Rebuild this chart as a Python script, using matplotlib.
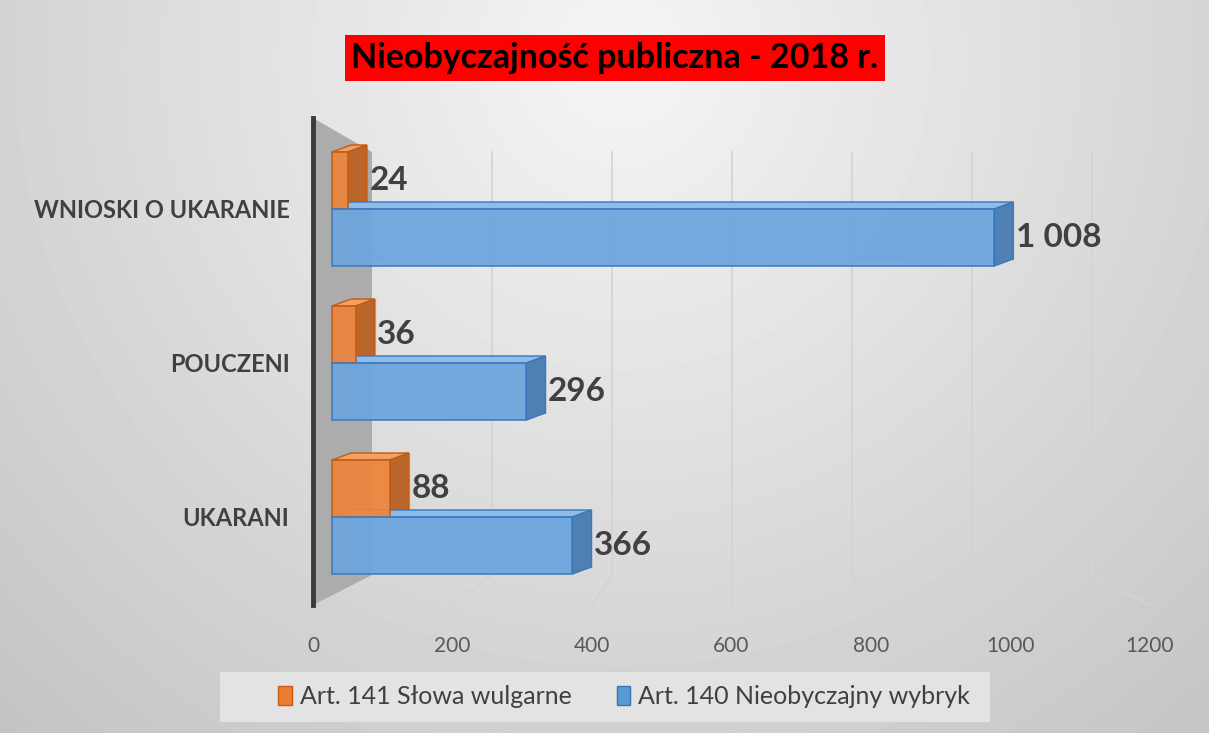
import numpy as np
import matplotlib.pyplot as plt
from matplotlib.patches import Polygon, Rectangle, Patch

categories = ["UKARANI", "POUCZENI", "WNIOSKI O UKARANIE"]
art141 = [88, 36, 24]
art140 = [366, 296, 1008]
labels141 = ["88", "36", "24"]
labels140 = ["366", "296", "1 008"]
series = ["Art. 141 Słowa wulgarne", "Art. 140 Nieobyczajny wybryk"]
ticks = [0, 200, 400, 600, 800, 1000, 1200]
title = "Nieobyczajność publiczna - 2018 r."

plt.rcParams['font.family'] = ['Lato', 'DejaVu Sans']

W, H = 1209, 733
fig = plt.figure(figsize=(W / 100, H / 100), dpi=100)

# grey radial background
bg = fig.add_axes([0, 0, 1, 1], zorder=-10)
yy, xx = np.mgrid[0:H, 0:W]
shade = np.clip(0.96 - 0.19 * np.hypot(xx - 620, yy - 60) / 900, 0, 1)
bg.imshow(shade, cmap='gray', vmin=0, vmax=1, aspect='auto')
bg.set_axis_off()

# plot area (pixels of the reference: x 313..1150, y 118..605)
px = 0.657          # pixels per value unit on the bar front plane
x0 = 332            # pixel of value 0 on the bar front plane
pitch = 154         # pixels between categories
c0 = 517            # pixel row of category 0
ax = fig.add_axes([313 / W, (H - 605) / H, (1150 - 313) / W, (605 - 118) / H])
ax.set_facecolor('none')
ax.set_xlim((313 - x0) / px, (1150 - x0) / px)
ax.set_ylim((c0 - 605) / pitch, (c0 - 118) / pitch)

def front_x(u):   # floor front edge
    return (313 + 0.6975 * u - x0) / px

def back_x(u):    # back wall
    return (372 + 0.6 * u - x0) / px

top_back = (c0 - 152) / pitch
floor_back = (c0 - 575) / pitch
floor_front = ax.get_ylim()[0]
top_front = ax.get_ylim()[1]

# side wall
ax.add_patch(Polygon([(front_x(0), floor_front), (front_x(0), top_front),
                      (back_x(0), top_back), (back_x(0), floor_back)],
                     closed=True, facecolor='#acacac', edgecolor='none', zorder=1))

# gridlines on back wall and floor
for u in ticks[1:]:
    ax.plot([back_x(u), back_x(u), front_x(u)], [top_back, floor_back, floor_front],
            color='#d3d3d3', lw=1.2, zorder=1, clip_on=False)

DX = 19 / px
DY = 7 / pitch
bh = 0.37
y = np.arange(len(categories))
y141 = y + bh / 2
y140 = y - bh / 2

def depth(yc, v, side, topc, edge):
    y1, y2 = yc - bh / 2, yc + bh / 2
    ax.add_patch(Rectangle((DX, y1 + DY), v, bh, facecolor=topc, alpha=0.35,
                           edgecolor=edge, lw=1, zorder=2))
    ax.add_patch(Polygon([(0, y2), (v, y2), (v + DX, y2 + DY), (DX, y2 + DY)],
                         facecolor=topc, edgecolor=edge, lw=1, zorder=3))
    ax.add_patch(Polygon([(v, y1), (v + DX, y1 + DY), (v + DX, y2 + DY), (v, y2)],
                         facecolor=side, edgecolor=edge, lw=1, zorder=3))

for i in range(len(categories)):
    depth(y141[i], art141[i], '#b9652c', '#f3a064', '#c55a11')
    depth(y140[i], art140[i], '#4f80b3', '#8fbce8', '#3a78bd')

ax.barh(y141, art141, height=bh, color='#ed843c', alpha=0.92, edgecolor='#c55a11', lw=1.2, zorder=4)
ax.barh(y140, art140, height=bh, color='#6ca5dd', alpha=0.92, edgecolor='#3a78bd', lw=1.2, zorder=4)

for i in range(len(categories)):
    ax.text(art141[i] + DX + 4, y141[i], labels141[i], ha='left', va='center',
            fontsize=24, fontweight='bold', color='#404040', zorder=6)
    ax.text(art140[i] + DX + 4, y140[i], labels140[i], ha='left', va='center',
            fontsize=24, fontweight='bold', color='#404040', zorder=6)

ax.set_yticks(y)
ax.set_yticklabels(categories, fontweight='bold')
ax.tick_params(axis='y', length=0, pad=17, labelsize=17, labelcolor='#404040')
ax.set_xticks([])
for s in ['top', 'right', 'bottom']:
    ax.spines[s].set_visible(False)
ax.spines['left'].set_color('#3b3b3b')
ax.spines['left'].set_linewidth(3.5)
ax.spines['left'].set_zorder(5)

sec = ax.secondary_xaxis('bottom', functions=(lambda v: (x0 + px * v - 313) / 0.6975,
                                              lambda u: (313 + 0.6975 * u - x0) / px))
sec.set_xticks(ticks)
sec.tick_params(length=0, pad=22, labelsize=15, labelcolor='#595959')
sec.spines['bottom'].set_visible(False)

fig.text(615 / W, 1 - 58 / H, title, ha='center', va='center', fontsize=24.5,
         fontweight='bold', color='black',
         bbox=dict(facecolor='#ff0000', edgecolor='none', pad=5))

fig.patches.append(Rectangle((220 / W, (H - 722) / H), 770 / W, 50 / H, transform=fig.transFigure,
                             facecolor='#e3e3e3', edgecolor='none', zorder=0))
handles = [Patch(facecolor='#ed7d31', edgecolor='#c55a11'),
           Patch(facecolor='#5b9bd5', edgecolor='#2e75b6')]
fig.legend(handles, series, loc='center', bbox_to_anchor=(624 / W, 1 - 697 / H), ncol=2,
           frameon=False, fontsize=18, handlelength=0.55, handleheight=0.8,
           handletextpad=0.3, columnspacing=1.8, labelcolor='#404040')

fig.savefig('out.png', dpi=100)
